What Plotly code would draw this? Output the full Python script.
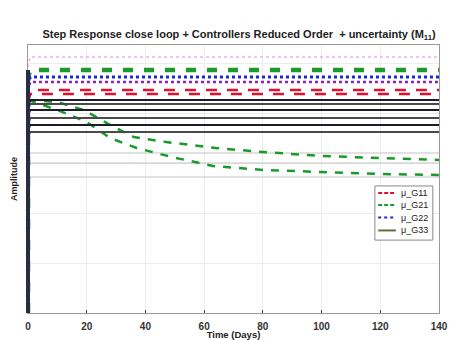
import plotly.graph_objects as go

# Time axis (days)
t_end = 140
x_ticks = [0, 20, 40, 60, 80, 100, 120, 140]
y_max = 1.072

# Steady-state levels of the step responses
g11_levels = [0.892, 0.876]              # red dashed
g21_levels = [0.972]                      # green dashed (flat)
g22_levels = [0.944, 0.924]              # blue / purple dotted
g33_levels = [0.852, 0.836, 0.812, 0.780, 0.752, 0.724]  # dark solid
pink_levels = [1.024]                     # faint pink dotted
gray_levels = [0.640, 0.600, 0.544]       # faint gray

# Slowly decaying green dashed responses
decay_t = [0, 10, 20, 28, 37, 49, 63, 80, 100, 120, 140]
decay_a = [0.852, 0.812, 0.764, 0.700, 0.660, 0.624, 0.588, 0.572, 0.564, 0.556, 0.552]
decay_t2 = [0, 10, 19, 28, 36, 47, 64, 80, 100, 120, 140]
decay_b = [0.852, 0.844, 0.812, 0.752, 0.704, 0.684, 0.660, 0.644, 0.628, 0.620, 0.612]

legend_names = ["μ_G11", "μ_G21", "μ_G22", "μ_G33"]
legend_colors = ["#e01030", "#1a9a2a", "#1a2ad0", "#6a6a40"]
legend_dashes = ["4px,2px", "4px,2px", "dot", "solid"]

fig = go.Figure()

def step(level, color, dash, width, opacity=1.0):
    fig.add_trace(go.Scatter(
        x=[0, 0, 0.8, t_end], y=[0, level * 0.97, level, level],
        mode="lines", line=dict(color=color, dash=dash, width=width),
        showlegend=False, opacity=opacity, hoverinfo="skip"))

for v in gray_levels:
    step(v, "#c4c4c4", "solid", 1.2)
for v in pink_levels:
    step(v, "#f0b0dc", "dot", 1.5)
fig.add_trace(go.Scatter(x=decay_t, y=decay_a, mode="lines", showlegend=False,
                         line=dict(color="#1a9a2a", dash="8px,8px", width=2.5)))
fig.add_trace(go.Scatter(x=decay_t2, y=decay_b, mode="lines", showlegend=False,
                         line=dict(color="#1a9a2a", dash="8px,8px", width=2.5)))
for v in g21_levels:
    step(v, "#1a9a2a", "10px,11px", 4.5)
step(g22_levels[1], "#8a20c0", "dot", 2.5)
step(g22_levels[0], "#1a2ad0", "dot", 3)
for v in g11_levels:
    step(v, "#e01030", "11px,10px", 2.5)
for i, v in enumerate(g33_levels):
    step(v, "#1c1c2c" if i % 2 == 0 else "#4a4a4a", "solid", 1.8)

# thick vertical rise of all step responses at t = 0 (drawn over the axis line)
shapes = [dict(type="line", xref="paper", yref="paper", x0=0, x1=0,
               y0=0, y1=max(g21_levels) / y_max,
               line=dict(color="#2a2c44", width=4), layer="above")]

# manual legend (compact, MATLAB-like)
lx0, lx1, ly_top, ly_bot = 0.844, 0.985, 0.474, 0.272
shapes.append(dict(type="rect", xref="paper", yref="paper", x0=lx0, x1=lx1,
                   y0=ly_bot, y1=ly_top, line=dict(color="#888", width=1),
                   fillcolor="white", layer="above"))
annotations = []
row_y = [0.448, 0.403, 0.356, 0.308]
for name, col, dsh, yy in zip(legend_names, legend_colors, legend_dashes, row_y):
    shapes.append(dict(type="line", xref="paper", yref="paper", x0=0.852, x1=0.895,
                       y0=yy, y1=yy, line=dict(color=col, dash=dsh, width=2), layer="above"))
    annotations.append(dict(text=name, xref="paper", yref="paper", x=0.903, y=yy,
                            xanchor="left", yanchor="middle", showarrow=False,
                            font=dict(size=9, color="#222")))

fig.update_layout(
    width=451, height=340,
    margin=dict(l=28, r=12, t=45, b=27),
    paper_bgcolor="white", plot_bgcolor="white",
    font=dict(family="Liberation Sans, Arial", size=8, color="#222"),
    title=dict(text="<b>Step Response close loop + Controllers Reduced Order  + uncertainty (M<sub>11</sub>)</b>",
               x=0.53, xanchor="center", y=0.9, yanchor="middle", font=dict(size=11)),
    xaxis=dict(range=[0, 140], tickvals=x_ticks, ticktext=[f"<b>{v}</b>" for v in x_ticks],
               ticks="inside", ticklen=3, automargin=False, ticklabelstandoff=4,
               showgrid=True, gridcolor="#ececec", zeroline=False,
               showline=True, linecolor="#999", mirror=True,
               tickfont=dict(size=10, family="Liberation Sans, Arial", color="#333"),
               title=dict(text="<b>Time (Days)</b>", font=dict(size=9.5), standoff=4)),
    yaxis=dict(range=[0, y_max], dtick=0.2, showticklabels=False, ticks="", automargin=False,
               showgrid=True, gridcolor="#ececec", zeroline=False,
               showline=True, linecolor="#999", mirror=True,
               title=dict(text="<b>Amplitude</b>", font=dict(size=9), standoff=7)),
    showlegend=False,
    shapes=shapes,
    annotations=annotations,
)

fig.write_html("out.html")
